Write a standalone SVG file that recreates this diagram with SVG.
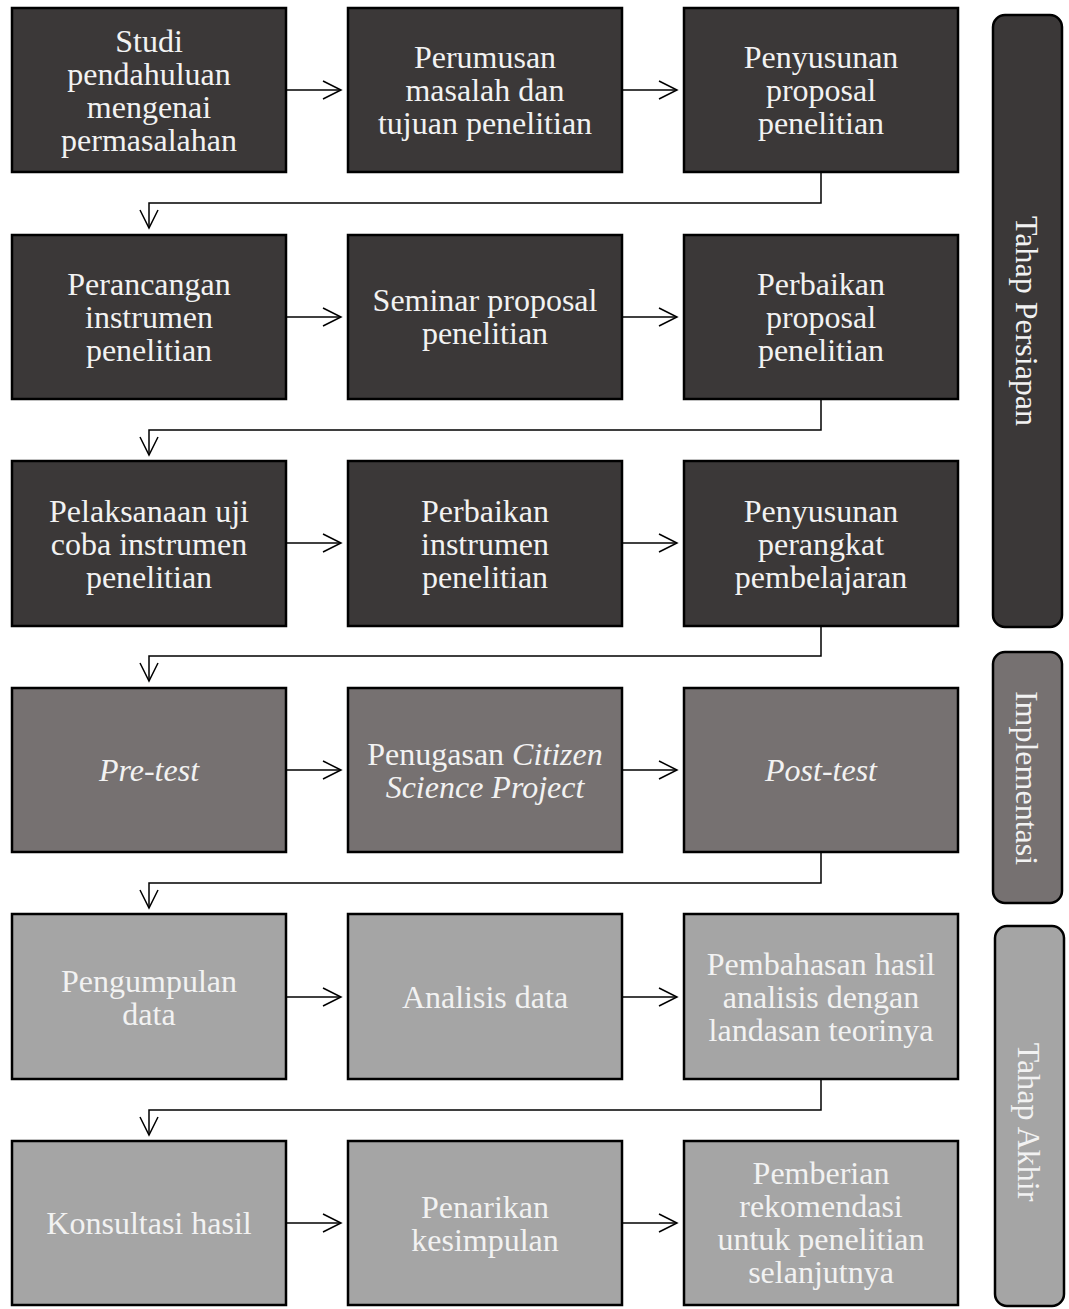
<svg xmlns="http://www.w3.org/2000/svg" width="1069" height="1309" viewBox="0 0 1069 1309">
<style>
.n rect{stroke:#000;stroke-width:2.5}
.d rect{fill:#3b3838}
.m rect{fill:#767171}
.l rect{fill:#a5a5a5}
text{font-family:"Liberation Serif","Times New Roman",serif;font-size:32px;fill:#f2f2f2;text-anchor:middle}
.c{fill:none;stroke:#000;stroke-width:1.5}
.s rect{stroke:#000;stroke-width:2.5}
</style>
<defs>
<marker id="a" markerUnits="userSpaceOnUse" markerWidth="24" markerHeight="24" refX="19" refY="10" orient="auto" viewBox="0 0 24 20">
<path d="M1,1 L19,10 L1,19" fill="none" stroke="#000" stroke-width="1.5"/>
</marker>
</defs>
<rect width="1069" height="1309" fill="#fff"/>
<g id="connectors" class="c" marker-end="url(#a)">
<line x1="286" y1="90" x2="341" y2="90"/>
<line x1="622" y1="90" x2="677" y2="90"/>
<polyline points="821,172 821,203 149,203 149,228"/>
<line x1="286" y1="317" x2="341" y2="317"/>
<line x1="622" y1="317" x2="677" y2="317"/>
<polyline points="821,399 821,430 149,430 149,455"/>
<line x1="286" y1="543" x2="341" y2="543"/>
<line x1="622" y1="543" x2="677" y2="543"/>
<polyline points="821,626 821,656 149,656 149,681"/>
<line x1="286" y1="770" x2="341" y2="770"/>
<line x1="622" y1="770" x2="677" y2="770"/>
<polyline points="821,852 821,883 149,883 149,908"/>
<line x1="286" y1="997" x2="341" y2="997"/>
<line x1="622" y1="997" x2="677" y2="997"/>
<polyline points="821,1079 821,1110 149,1110 149,1135"/>
<line x1="286" y1="1223" x2="341" y2="1223"/>
<line x1="622" y1="1223" x2="677" y2="1223"/>
</g>
<g id="n1" class="n d"><rect x="12" y="8" width="274" height="164"/><text x="149" y="52">Studi</text><text x="149" y="85">pendahuluan</text><text x="149" y="118">mengenai</text><text x="149" y="151">permasalahan</text></g>
<g id="n2" class="n d"><rect x="348" y="8" width="274" height="164"/><text x="485" y="68">Perumusan</text><text x="485" y="101">masalah dan</text><text x="485" y="134">tujuan penelitian</text></g>
<g id="n3" class="n d"><rect x="684" y="8" width="274" height="164"/><text x="821" y="68">Penyusunan</text><text x="821" y="101">proposal</text><text x="821" y="134">penelitian</text></g>
<g id="n4" class="n d"><rect x="12" y="235" width="274" height="164"/><text x="149" y="295">Perancangan</text><text x="149" y="328">instrumen</text><text x="149" y="361">penelitian</text></g>
<g id="n5" class="n d"><rect x="348" y="235" width="274" height="164"/><text x="485" y="311">Seminar proposal</text><text x="485" y="344">penelitian</text></g>
<g id="n6" class="n d"><rect x="684" y="235" width="274" height="164"/><text x="821" y="295">Perbaikan</text><text x="821" y="328">proposal</text><text x="821" y="361">penelitian</text></g>
<g id="n7" class="n d"><rect x="12" y="461" width="274" height="165"/><text x="149" y="522">Pelaksanaan uji</text><text x="149" y="555">coba instrumen</text><text x="149" y="588">penelitian</text></g>
<g id="n8" class="n d"><rect x="348" y="461" width="274" height="165"/><text x="485" y="522">Perbaikan</text><text x="485" y="555">instrumen</text><text x="485" y="588">penelitian</text></g>
<g id="n9" class="n d"><rect x="684" y="461" width="274" height="165"/><text x="821" y="522">Penyusunan</text><text x="821" y="555">perangkat</text><text x="821" y="588">pembelajaran</text></g>
<g id="n10" class="n m"><rect x="12" y="688" width="274" height="164"/><text x="149" y="781" font-style="italic">Pre-test</text></g>
<g id="n11" class="n m"><rect x="348" y="688" width="274" height="164"/><text x="485" y="765">Penugasan <tspan font-style="italic">Citizen</tspan></text><text x="485" y="798" font-style="italic">Science Project</text></g>
<g id="n12" class="n m"><rect x="684" y="688" width="274" height="164"/><text x="821" y="781" font-style="italic">Post-test</text></g>
<g id="n13" class="n l"><rect x="12" y="914" width="274" height="165"/><text x="149" y="992">Pengumpulan</text><text x="149" y="1025">data</text></g>
<g id="n14" class="n l"><rect x="348" y="914" width="274" height="165"/><text x="485" y="1008">Analisis data</text></g>
<g id="n15" class="n l"><rect x="684" y="914" width="274" height="165"/><text x="821" y="975">Pembahasan hasil</text><text x="821" y="1008">analisis dengan</text><text x="821" y="1041">landasan teorinya</text></g>
<g id="n16" class="n l"><rect x="12" y="1141" width="274" height="164"/><text x="149" y="1234">Konsultasi hasil</text></g>
<g id="n17" class="n l"><rect x="348" y="1141" width="274" height="164"/><text x="485" y="1218">Penarikan</text><text x="485" y="1251">kesimpulan</text></g>
<g id="n18" class="n l"><rect x="684" y="1141" width="274" height="164"/><text x="821" y="1184">Pemberian</text><text x="821" y="1217">rekomendasi</text><text x="821" y="1250">untuk penelitian</text><text x="821" y="1283">selanjutnya</text></g>
<g id="s1" class="s d"><rect x="993" y="15" width="69" height="612" rx="12" fill="#3b3838"/><text transform="translate(1027,321) rotate(90)" y="11">Tahap Persiapan</text></g>
<g id="s2" class="s m"><rect x="993" y="652" width="69" height="251" rx="12" fill="#767171"/><text transform="translate(1027,778) rotate(90)" y="11">Implementasi</text></g>
<g id="s3" class="s l"><rect x="995" y="926" width="69" height="380" rx="12" fill="#a5a5a5"/><text transform="translate(1029,1122) rotate(90)" y="11">Tahap Akhir</text></g>
</svg>
